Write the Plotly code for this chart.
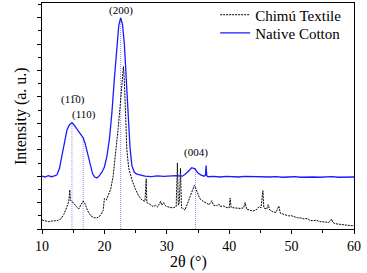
import plotly.graph_objects as go

# Native Cotton (blue, solid)
nc_x = [10.0, 10.5, 11.0, 11.5, 12.0, 12.4, 12.8, 13.2, 13.6, 14.0, 14.4, 14.8, 15.1, 15.4, 15.7,
        16.0, 16.3, 16.6, 16.9, 17.2, 17.5, 17.8, 18.1, 18.4, 18.8, 19.2, 19.6, 20.0, 20.4, 20.8,
        21.2, 21.6, 22.0, 22.3, 22.6, 22.9, 23.2, 23.5, 23.8, 24.1, 24.4, 24.8, 25.2, 25.8, 26.5,
        27.5, 28.5, 29.5, 30.5, 31.5, 32.5, 33.0, 33.5, 34.0, 34.5, 35.0, 35.5, 36.0, 36.2, 36.3,
        36.4, 36.6, 37.5, 38.5, 39.5, 40.5, 41.5, 42.5, 43.5, 44.5, 45.5, 46.5, 47.5, 48.5, 49.5,
        50.5, 51.5, 52.5, 53.5, 54.5, 55.5, 56.5, 57.5, 58.5, 59.5, 60.0]
nc_y = [2.00, 1.97, 2.02, 1.98, 2.01, 2.05, 2.30, 2.75, 3.30, 3.75, 3.95, 4.03, 3.95, 3.85, 3.75,
        3.65, 3.55, 3.45, 3.25, 2.95, 2.60, 2.30, 2.10, 1.98, 1.93, 2.02, 2.15, 2.35, 2.75, 3.40,
        4.40, 5.70, 7.00, 7.70, 8.00, 7.75, 7.00, 5.80, 4.30, 3.10, 2.40, 2.15, 2.08, 2.03, 2.00,
        1.98, 2.01, 1.99, 2.00, 2.02, 2.00, 2.08, 2.20, 2.32, 2.28, 2.12, 2.04, 2.00, 2.05, 2.40,
        2.02, 1.98, 1.99, 1.97, 1.99, 1.98, 1.97, 1.99, 1.98, 1.97, 1.98, 1.97, 1.98, 1.96, 1.97,
        1.98, 1.96, 1.97, 1.97, 1.96, 1.97, 1.98, 1.96, 1.97, 1.96, 1.97]

# Chimú Textile (black, dashed)
ct_x = [10.0, 10.5, 11.0, 11.5, 12.0, 12.5, 13.0, 13.5, 14.0, 14.3, 14.45, 14.55, 14.8, 15.1, 15.5,
        15.9, 16.2, 16.6, 16.9, 17.3, 17.8, 18.3, 18.8, 19.3, 19.8, 20.0, 20.3, 20.6, 21.0, 21.4,
        21.8, 22.2, 22.5, 22.7, 22.9, 23.05, 23.2, 23.4, 23.6, 23.9, 24.2, 24.5, 25.0, 25.5, 26.0,
        26.5, 26.7, 26.8, 27.2, 27.8, 28.2, 28.5, 28.8, 29.0, 29.2, 29.5, 29.7, 30.0, 30.5, 31.0,
        31.5, 31.7, 31.85, 32.0, 32.2, 32.35, 32.6, 32.9, 33.3, 33.7, 34.0, 34.4, 34.6, 34.9, 35.3,
        35.8, 36.3, 36.8, 37.2, 37.5, 38.0, 38.3, 38.6, 39.0, 39.5, 40.0, 40.15, 40.3, 40.8, 41.3,
        41.8, 42.3, 42.55, 42.8, 43.3, 43.8, 44.3, 44.8, 45.1, 45.4, 45.55, 46.0, 46.25, 46.5, 47.0,
        47.5, 47.95, 48.2, 48.8, 49.5, 50.0, 50.5, 51.0, 51.5, 52.0, 52.5, 53.0, 53.5, 54.0, 54.5,
        55.0, 55.5, 56.0, 56.4, 56.6, 57.0, 57.5, 58.0, 58.5, 59.0, 59.5, 60.0]
ct_y = [0.34, 0.30, 0.28, 0.30, 0.30, 0.32, 0.38, 0.55, 0.85, 1.05, 1.48, 1.10, 1.03, 0.98, 0.85,
        0.76, 0.90, 1.06, 0.95, 0.70, 0.50, 0.43, 0.42, 0.50, 0.70, 1.15, 1.10, 1.25, 1.50, 2.00,
        2.80, 3.80, 4.60, 5.30, 5.90, 6.15, 5.60, 4.20, 3.00, 2.30, 2.00, 1.80, 1.50, 1.25, 1.10,
        1.05, 1.90, 1.00, 0.95, 0.85, 0.90, 0.83, 0.95, 1.05, 0.90, 1.00, 0.90, 0.85, 0.82, 0.80,
        0.85, 2.50, 0.90, 1.00, 2.30, 0.80, 0.78, 0.72, 0.95, 1.20, 1.40, 1.65, 1.55, 1.35, 1.15,
        1.05, 1.00, 0.92, 1.07, 0.90, 0.88, 0.95, 0.85, 0.88, 0.82, 0.80, 1.17, 0.82, 0.80, 0.78,
        0.78, 0.80, 1.00, 0.75, 0.70, 0.68, 0.72, 0.85, 0.80, 1.45, 0.80, 0.75, 0.92, 0.72, 0.65,
        0.63, 0.87, 0.60, 0.55, 0.50, 0.50, 0.45, 0.42, 0.42, 0.38, 0.40, 0.32, 0.32, 0.33, 0.28,
        0.27, 0.25, 0.25, 0.38, 0.25, 0.20, 0.18, 0.16, 0.15, 0.14, 0.13, 0.12]

# Peak markers (dotted verticals) and labels
peak_x = [14.8, 16.6, 22.6, 34.6]
peak_y = [4.03, 3.45, 8.0, 2.30]
label_text = ["(11\u03050)", "(110)", "(200)", "(004)"]
label_x = [14.97, 16.73, 22.6, 34.63]
label_y = [4.92, 4.32, 8.26, 2.89]

FONT = "Times New Roman, Liberation Serif, serif"

fig = go.Figure()

vx, vy = [], []
for px, py in zip(peak_x, peak_y):
    vx += [px, px, None]
    vy += [0, py, None]
fig.add_trace(go.Scatter(x=vx, y=vy, mode="lines", showlegend=False, hoverinfo="skip",
                         line=dict(color="#8f8fff", width=1, dash="1px,1px")))

fig.add_trace(go.Scatter(x=ct_x, y=ct_y, mode="lines", name="Chimú Textile", legend="legend",
                         line=dict(color="black", width=1, dash="2px,1px")))
fig.add_trace(go.Scatter(x=nc_x, y=nc_y, mode="lines", name="Native Cotton", legend="legend2",
                         line=dict(color="#1a1aff", width=1.3)))

for t, x, y in zip(label_text, label_x, label_y):
    fig.add_annotation(x=x, y=y, text=t, showarrow=False,
                       font=dict(family=FONT, size=11, color="black"))

# axis titles
fig.add_annotation(x=0.4695, y=-0.145, xref="paper", yref="paper", text="2θ (°)",
                   showarrow=False, xanchor="center", yanchor="middle",
                   font=dict(family=FONT, size=16, color="black"))
fig.add_annotation(x=-0.067, y=0.5, xref="paper", yref="paper", text="Intensity (a. u.)",
                   showarrow=False, textangle=-90, xanchor="center", yanchor="middle",
                   font=dict(family=FONT, size=16, color="black"))

leg_common = dict(xanchor="left", yanchor="top", bgcolor="rgba(0,0,0,0)",
                  font=dict(family=FONT, size=15, color="black"), itemwidth=30)
fig.update_layout(
    width=367, height=273,
    margin=dict(l=42, r=13, t=3, b=44, autoexpand=False),
    paper_bgcolor="white", plot_bgcolor="white",
    font=dict(family=FONT, color="black"),
    showlegend=True,
    legend=dict(x=0.555, y=1.02, **leg_common),
    legend2=dict(x=0.555, y=0.94, **leg_common),
)
fig.update_xaxes(range=[10, 60], dtick=10, tick0=10, ticks="outside", ticklen=4,
                 tickwidth=1, tickcolor="black", automargin=False,
                 minor=dict(dtick=5, ticks="outside", ticklen=3, tickcolor="black"),
                 showline=True, linecolor="black", linewidth=1, mirror=True,
                 showgrid=False, zeroline=False,
                 tickfont=dict(family=FONT, size=14))
fig.update_yaxes(range=[0, 8.56], dtick=1, tick0=0, ticks="outside", ticklen=4,
                 tickwidth=1, tickcolor="black", automargin=False,
                 minor=dict(dtick=0.5, ticks="outside", ticklen=3, tickcolor="black"),
                 showline=True, linecolor="black", linewidth=1, mirror=True,
                 showgrid=False, zeroline=False, showticklabels=False)

fig.write_html("out.html", config={"displayModeBar": False},
               post_script="document.body.style.margin='0';document.body.style.padding='0';")
